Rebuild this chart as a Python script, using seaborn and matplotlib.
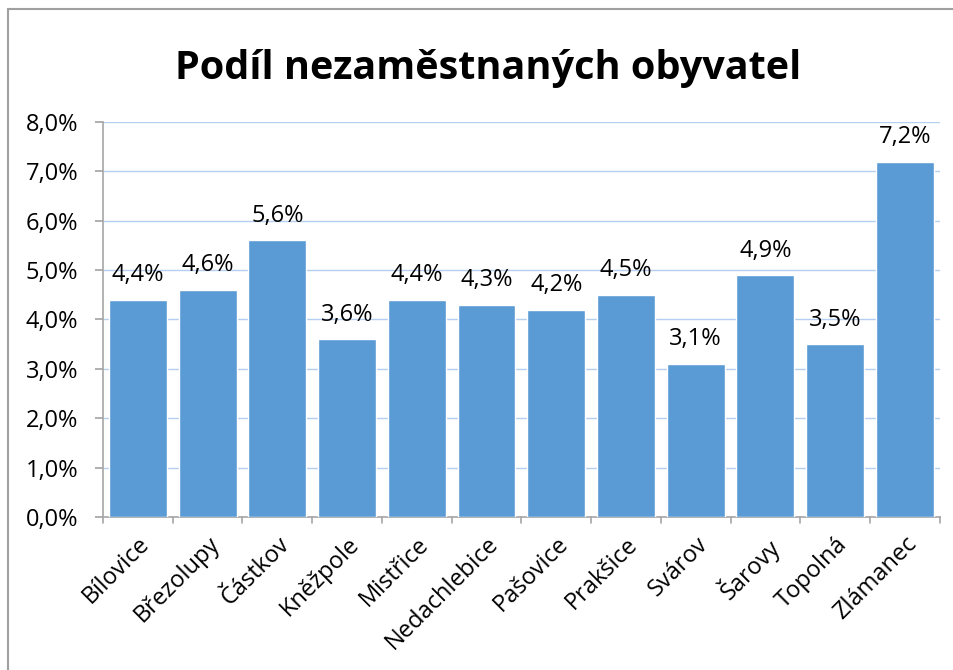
import matplotlib
matplotlib.use("Agg")
import matplotlib.pyplot as plt
import seaborn as sns
import pandas as pd
from matplotlib.lines import Line2D

categories = ["Bílovice", "Březolupy", "Částkov", "Kněžpole", "Mistřice", "Nedachlebice",
              "Pašovice", "Prakšice", "Svárov", "Šarovy", "Topolná", "Zlámanec"]
values = [4.4, 4.6, 5.6, 3.6, 4.4, 4.3, 4.2, 4.5, 3.1, 4.9, 3.5, 7.2]
yticks = [0, 1, 2, 3, 4, 5, 6, 7, 8]
title = "Podíl nezaměstnaných obyvatel"

def pct(v):
    return f"{v:.1f}%".replace(".", ",")

sns.set_theme(style="white")
plt.rcParams['font.family'] = ['Open Sans', 'DejaVu Sans']
plt.rcParams['text.color'] = 'black'
plt.rcParams['xtick.color'] = 'black'
plt.rcParams['ytick.color'] = 'black'

df = pd.DataFrame({"obec": categories, "podil": values})

fig = plt.figure(figsize=(9.54, 6.7), dpi=100)
ax = fig.add_axes([0.108, 0.2284, 0.877, 0.5895])

sns.barplot(data=df, x="obec", y="podil", color="#5B9BD5", saturation=1,
            width=0.83, ax=ax, zorder=3)

ax.set_ylim(0, 8)
ax.set_xlim(-0.5, len(categories) - 0.5)
ax.set_yticks(yticks)
ax.set_yticklabels([pct(v) for v in yticks], fontsize=17, color="black")
ax.yaxis.grid(True, color="#B4CFEF", linewidth=1, zorder=0)
ax.xaxis.grid(False)
ax.set_xlabel("")
ax.set_ylabel("")

for s in ["top", "right"]:
    ax.spines[s].set_visible(False)
for s in ["left", "bottom"]:
    ax.spines[s].set_color("#A6A6A6")
    ax.spines[s].set_linewidth(1.2)

ax.tick_params(axis="y", which="major", length=6, color="#A6A6A6", direction="out", left=True, pad=12)
ax.set_xticks(range(len(categories)))
ax.set_xticklabels(categories, rotation=45, ha="right", rotation_mode="anchor", fontsize=17, color="black")
ax.tick_params(axis="x", length=0, pad=11)
# boundary ticks between categories
for i in range(len(categories) + 1):
    ax.plot([i - 0.5, i - 0.5], [0, -0.13], color="#A6A6A6", lw=1.2, clip_on=False, zorder=4)

for c in ax.containers:
    ax.bar_label(c, labels=[pct(v) for v in values], padding=9, fontsize=17, color="black")

fig.text(0.512, 0.898, title, ha="center", va="center", fontsize=28.5, fontweight="bold", color="black")

fig.add_artist(Line2D([8/954, 1], [1 - 9/670, 1 - 9/670], transform=fig.transFigure,
                      color="#A0A0A0", lw=1.5))
fig.add_artist(Line2D([8/954, 8/954], [0, 1 - 9/670], transform=fig.transFigure,
                      color="#A0A0A0", lw=1.5))

fig.savefig("out.png", dpi=100)
